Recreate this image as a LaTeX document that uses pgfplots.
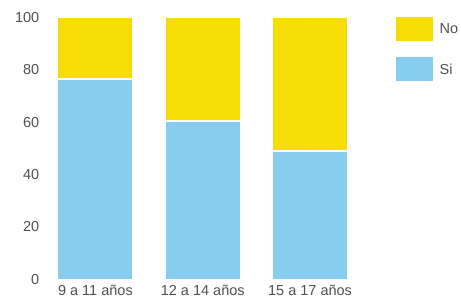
\documentclass[border=0pt]{standalone}
\usepackage{pgfplots}
\pgfplotsset{compat=1.18}
\usepackage{fontspec}
\setmainfont{Liberation Sans}
\definecolor{cyel}{HTML}{F6DD05}
\definecolor{cblue}{HTML}{87CEEE}
\definecolor{ctext}{HTML}{505050}
\begin{document}
\begin{tikzpicture}[x=1pt,y=1pt]
\path[use as bounding box] (0,0) rectangle (461,300);
\begin{axis}[
 at={(41.75pt,20.7pt)}, anchor=south west,
 scale only axis, width=322pt, height=262pt,
 ybar stacked, bar width=75.5pt,
 xmin=-0.5, xmax=2.5, ymin=0, ymax=100,
 xtick={0,1,2}, xticklabels={9 a 11 años, 12 a 14 años, 15 a 17 años},
 ytick={0,20,...,100},
 axis line style={draw=none}, tick style={draw=none},
 ticklabel style={font=\fontsize{14.5}{16}\selectfont, text=ctext},
 yticklabel style={xshift=1pt},
 xticklabel style={yshift=-2pt},
 /pgf/number format/assume math mode=true,
 legend image code/.code={\path[#1,draw=none,fill] (0pt,-12pt) rectangle (37pt,12pt); \path (41pt,0pt);},
 legend style={at={(1.0992,1)}, anchor=north west, draw=none, fill=none,
   font=\fontsize{14.5}{16}\selectfont, text=ctext, row sep=16pt, inner sep=0pt},
 legend cell align=left,
 reverse legend,
 clip=false,
]
\addplot[fill=cblue, draw=white, line width=1.5pt] coordinates {(0,76.5) (1,60.5) (2,49)};
\addlegendentry{Si}
\addplot[fill=cyel, draw=white, line width=1.5pt] coordinates {(0,23.5) (1,39.5) (2,51)};
\addlegendentry{No}
\end{axis}
\end{tikzpicture}
\end{document}
